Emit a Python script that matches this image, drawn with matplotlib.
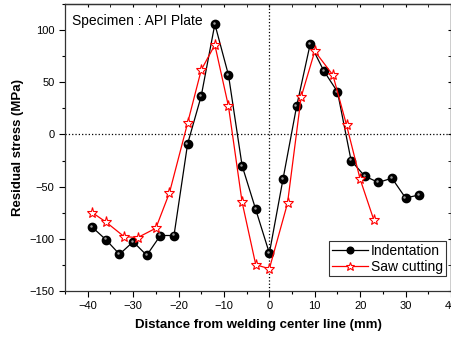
import matplotlib
matplotlib.use("Agg")
from matplotlib import pyplot as plt
from matplotlib.ticker import MultipleLocator
from matplotlib.transforms import offset_copy

plt.rcParams['font.family'] = ['Liberation Sans', 'DejaVu Sans']

# indentation measurements
ind_x = [-39, -36, -33, -30, -27, -24, -21, -18, -15, -12, -9, -6, -3, 0,
         3, 6, 9, 12, 15, 18, 21, 24, 27, 30, 33]
ind_y = [-89, -101, -115, -103, -116, -97, -97, -9, 37, 106, 57, -30, -72, -114,
         -43, 27, 87, 61, 41, -25, -40, -46, -42, -61, -58]

# saw cutting measurements
saw_x = [-39, -36, -32, -29, -25, -22, -18, -15, -12, -9, -6, -3, 0,
         4, 7, 10, 14, 17, 20, 23]
saw_y = [-75, -84, -98, -99, -90, -56, 11, 62, 86, 27, -65, -125, -129,
         -66, 36, 80, 57, 9, -43, -82]

fig = plt.figure(figsize=(4.52, 3.38), dpi=100)
ax = fig.add_axes([65/452, 47.3/338, 386/452, 286.4/338])

ax.axhline(0, color='black', ls=':', lw=0.9)
ax.axvline(0, color='black', ls=':', lw=0.9)

ax.plot(ind_x, ind_y, '-o', color='black', lw=0.9, ms=6, label='Indentation')
# little highlight so the dots look like balls
hl = offset_copy(ax.transData, fig=fig, x=-1.2, y=1.2, units='dots')
ax.plot(ind_x, ind_y, 'o', color='#9a9a9a', ms=1.8, mew=0, transform=hl)

ax.plot(saw_x, saw_y, '-*', color='red', lw=0.9, ms=8, mfc='white', mec='red',
        mew=0.8, label='Saw cutting')

ax.set_xlim(-45, 40)
ax.set_ylim(-150, 125)
ax.xaxis.set_major_locator(MultipleLocator(10))
ax.xaxis.set_minor_locator(MultipleLocator(5))
ax.yaxis.set_major_locator(MultipleLocator(50))
ax.yaxis.set_minor_locator(MultipleLocator(25))
ax.tick_params(which='major', direction='out', length=4, width=0.8, labelsize=8)
ax.tick_params(which='minor', direction='out', length=2.5, width=0.8)

top = ax.secondary_xaxis('top')
top.xaxis.set_major_locator(MultipleLocator(10))
top.xaxis.set_minor_locator(MultipleLocator(5))
top.tick_params(which='both', direction='in', length=2.5, labeltop=False)
right = ax.secondary_yaxis('right')
right.yaxis.set_major_locator(MultipleLocator(50))
right.yaxis.set_minor_locator(MultipleLocator(25))
right.tick_params(which='both', direction='in', length=2.5, labelright=False)

for s in list(ax.spines.values()) + [top.spines['top'], right.spines['right']]:
    s.set_linewidth(0.9)
    s.set_color('#333333')

ax.set_xlabel('Distance from welding center line (mm)', fontsize=9.5,
              fontweight='bold', labelpad=6)
ax.set_ylabel('Residual stress (MPa)', fontsize=9.5, fontweight='bold', labelpad=4)

ax.text(-43.5, 109, 'Specimen : API Plate', fontsize=10, va='center')

leg = ax.legend(loc='lower right', bbox_to_anchor=(0.986, 0.05), fontsize=10,
                frameon=True, fancybox=False, edgecolor='black', markerscale=0.8,
                handlelength=2.6, handletextpad=0.2, borderpad=0.2,
                labelspacing=0.1, borderaxespad=0)
leg.get_frame().set_linewidth(0.8)

fig.savefig('out.png', dpi=100)
